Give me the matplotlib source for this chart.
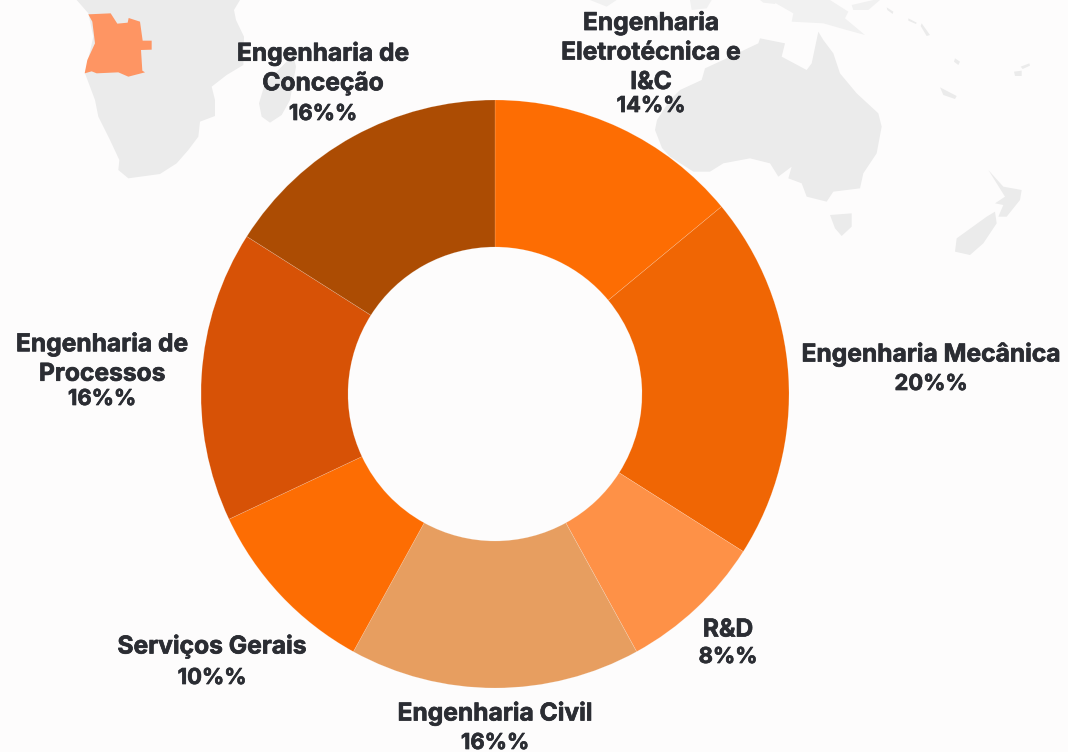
import matplotlib
matplotlib.use("Agg")
import matplotlib.pyplot as plt
import matplotlib.patheffects as pe
from matplotlib.patches import Polygon

names = ["Engenharia\nEletrotécnica e\nI&C", "Engenharia Mecânica", "R&D", "Engenharia Civil",
         "Serviços Gerais", "Engenharia de\nProcessos", "Engenharia de\nConceção"]
values = [14, 20, 8, 16, 10, 16, 16]
colors = ["#fd6d03", "#f06604", "#fe9147", "#e79e60", "#fd6d03", "#d75206", "#ac4c03"]

# label centres in pixels (x, name y, value y)
label_x = [651, 931, 728, 495, 212, 102, 323]
name_y = [52, 354, 630, 713, 646, 358.5, 68]
value_y = [106, 384, 657, 743, 678, 399, 114]

W, H = 1068, 752
BG = "#fdfcfc"
LAND = "#ebebeb"
LAND_TOP = "#f1f1f1"
TXT = "#2b2d33"

# background map, traced in pixels
def zoom1(pts):
    return [(60 + x / 3, y / 3) for x, y in pts]

def zoom2(pts):
    return [(660 + x / 3, y / 3) for x, y in pts]

africa = zoom1([(50, 0), (85, 40), (100, 110), (75, 220), (105, 300), (115, 350), (150, 420), (178, 480),
                (175, 510), (205, 535), (300, 522), (350, 490), (385, 450), (415, 410), (420, 365), (465, 348),
                (465, 300), (455, 260), (500, 225), (550, 195), (552, 110), (528, 60), (522, 30), (540, 0)])
madagascar = zoom1([(700, 165), (708, 200), (690, 300), (665, 345), (630, 368), (605, 350), (597, 310),
                    (615, 250), (660, 205)])
angola = zoom1([(85, 43), (152, 40), (172, 71), (203, 68), (206, 54), (240, 65), (248, 122), (275, 122),
                (275, 149), (243, 150), (247, 212), (255, 217), (205, 230), (175, 217), (110, 220),
                (95, 214), (74, 220), (82, 180), (105, 130), (97, 65)])
australia = zoom2([(475, 95), (455, 190), (440, 210), (365, 170), (375, 130), (300, 115), (295, 130), (200, 175),
                   (135, 205), (125, 240), (60, 270), (30, 300), (-9, 360), (-15, 390), (6, 444), (30, 470),
                   (100, 515), (150, 515), (190, 490),
                   (270, 475), (330, 490), (355, 530), (395, 500), (385, 535), (425, 550), (440, 590), (500, 605),
                   (520, 575), (600, 565), (610, 520), (650, 460), (665, 380), (655, 340), (590, 280), (540, 220),
                   (520, 160), (490, 120)])
tasmania = zoom2([(510, 645), (575, 640), (575, 680), (545, 708), (525, 685)])
nz_north = zoom2([(985, 510), (1030, 560), (1085, 570), (1080, 600), (1040, 650), (1015, 650), (1030, 615),
                  (1005, 610), (1035, 590)])
nz_south = zoom2([(1005, 635), (1010, 670), (970, 730), (930, 765), (885, 755), (890, 715), (980, 650)])
new_guinea = zoom2([(330, 0), (400, 40), (395, 65), (490, 70), (560, 90), (615, 105), (555, 55), (565, 35), (510, 0)])
islands = [zoom2(p) for p in [
    [(840, 262), (890, 288), (885, 297), (850, 285)],
    [(885, 175), (900, 185), (895, 195), (882, 185)],
    [(1062, 215), (1085, 212), (1085, 228), (1065, 228)],
    [(1082, 200), (1108, 190), (1110, 197), (1088, 207)],
    [(680, 22), (700, 35), (698, 42), (682, 30)],
    [(745, 55), (770, 68), (768, 72), (745, 62)],
    [(785, 70), (810, 105), (800, 108), (782, 78)],
]]
top_land = [zoom2(p) for p in [
    [(90, 0), (155, 0), (140, 25), (95, 30)],
    [(575, 15), (640, 0), (660, 0), (625, 30), (580, 30)],
    [(300, 0), (350, 0), (345, 12), (310, 8)],
    [(-210, 0), (-130, 0), (-160, 20)],
    [(-30, 50), (0, 45), (-5, 65), (-35, 65)],
]]
land = [africa, madagascar, australia, tasmania, nz_north, nz_south] + islands

plt.rcParams["font.family"] = ["Inter", "DejaVu Sans"]
fig = plt.figure(figsize=(W / 100, H / 100), dpi=100, facecolor=BG)
ax = fig.add_axes([0, 0, 1, 1])

def flip(pts):
    return [(x, H - y) for x, y in pts]

for shape in land:
    ax.add_patch(Polygon(flip(shape), closed=True, fc=LAND, ec="none", zorder=1))
for shape in top_land + [new_guinea]:
    ax.add_patch(Polygon(flip(shape), closed=True, fc=LAND_TOP, ec="none", zorder=1))
ax.add_patch(Polygon(flip(angola), closed=True, fc="#fe9563", ec="none", zorder=1.5))

ax.pie(values, colors=colors, center=(495, H - 394), radius=294, startangle=90, counterclock=False, frame=True,
       wedgeprops=dict(width=147, edgecolor="#ffffff40", linewidth=0.4, zorder=2))

heavy = [pe.withStroke(linewidth=0.5, foreground=TXT)]
for name, v, x, ny, vy in zip(names, values, label_x, name_y, value_y):
    ax.text(x, H - ny, name, ha="center", va="center", fontsize=17.7, fontweight="bold", color=TXT,
            linespacing=1.36, zorder=3, path_effects=heavy)
    ax.text(x, H - vy, f"{v}%%", ha="center", va="center", fontsize=15.8, fontweight="bold", color=TXT, zorder=3,
            path_effects=heavy)

ax.set_xlim(0, W)
ax.set_ylim(0, H)
ax.set_aspect("auto")
ax.axis("off")
fig.savefig("out.png", dpi=100, facecolor=BG)
